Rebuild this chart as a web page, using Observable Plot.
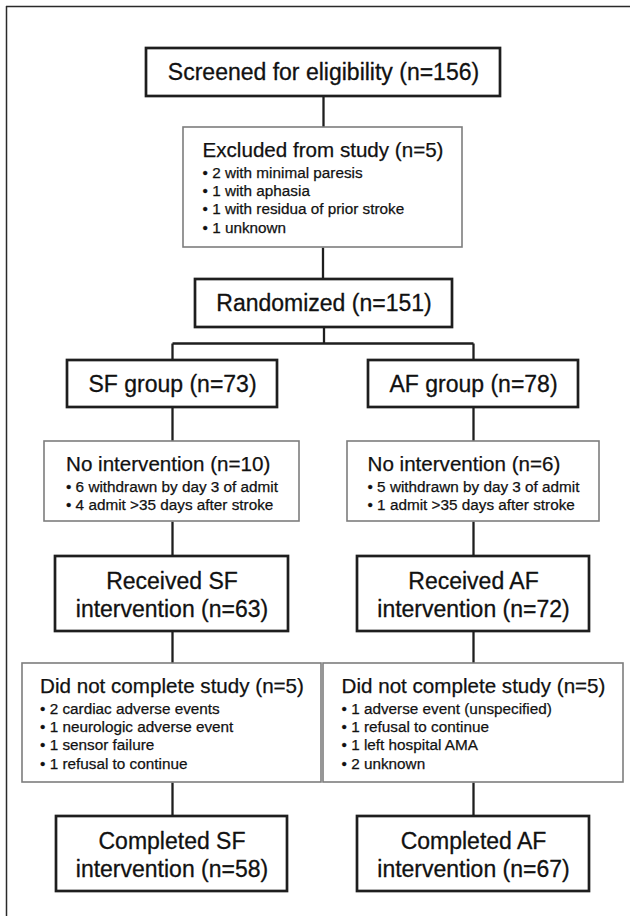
<!DOCTYPE html>
<html><head><meta charset="utf-8">
<script src="https://cdn.jsdelivr.net/npm/d3@7"></script>
<script src="https://cdn.jsdelivr.net/npm/@observablehq/plot@0.6"></script>
<style>body{margin:0;background:#fff}#chart svg{display:block}</style>
</head><body><div id="chart"></div>
<script>
// ---- data ----
const stages = ["Screened for eligibility","Excluded from study","Randomized","SF group","AF group",
  "No intervention","No intervention","Received SF intervention","Received AF intervention",
  "Did not complete study","Did not complete study","Completed SF intervention","Completed AF intervention"];
const counts = [156,5,151,73,78,10,6,63,72,5,5,58,67];
const excludedReasons = ["2 with minimal paresis","1 with aphasia","1 with residua of prior stroke","1 unknown"];
const sfNoIntervention = ["6 withdrawn by day 3 of admit","4 admit >35 days after stroke"];
const afNoIntervention = ["5 withdrawn by day 3 of admit","1 admit >35 days after stroke"];
const sfDropouts = ["2 cardiac adverse events","1 neurologic adverse event","1 sensor failure","1 refusal to continue"];
const afDropouts = ["1 adverse event (unspecified)","1 refusal to continue","1 left hospital AMA","2 unknown"];
const bulletLists = [null, excludedReasons, null, null, null, sfNoIntervention, afNoIntervention, null, null, sfDropouts, afDropouts, null, null];

// ---- layout (flowchart geometry) ----
const layout = [
  {x1:146,x2:500,y1:48,y2:96,kind:"main"},
  {x1:183,x2:462,y1:127,y2:247,kind:"note"},
  {x1:195,x2:452,y1:279,y2:327,kind:"main"},
  {x1:67,x2:277,y1:360,y2:407,kind:"main"},
  {x1:368,x2:578,y1:360,y2:407,kind:"main"},
  {x1:44,x2:299,y1:441,y2:521,kind:"note"},
  {x1:347,x2:599,y1:441,y2:521,kind:"note"},
  {x1:55,x2:288,y1:556,y2:631,kind:"main",split:true},
  {x1:357,x2:589,y1:556,y2:631,kind:"main",split:true},
  {x1:22,x2:321,y1:663,y2:782,kind:"note"},
  {x1:323,x2:623,y1:663,y2:782,kind:"note"},
  {x1:56,x2:287,y1:816,y2:891,kind:"main",split:true},
  {x1:357,x2:589,y1:816,y2:891,kind:"main",split:true}
];
const columnLinks = [[3,5],[4,6],[5,7],[6,8],[7,9],[8,10],[9,11],[10,12]];
const branchY = 343, sfX = 172, afX = 473;

const FONT = "'Liberation Sans', Arial, Helvetica, sans-serif";
const mainSize = 23, titleSize = 20.6, bulletSize = 15.3;
const ctx = document.createElement("canvas").getContext("2d");
function measure(t, s){ ctx.font = `${s}px ${FONT}`; return ctx.measureText(t).width; }

const boxes = layout.map((b,i)=>({...b, i}));
const cx = b => (b.x1+b.x2)/2;

const mainText = [], noteText = [];
boxes.forEach((b,i)=>{
  const label = `${stages[i]} (n=${counts[i]})`;
  if (b.kind === "main") {
    const cy = (b.y1+b.y2)/2;
    if (b.split) {
      const w = stages[i].split(" ");
      const last = w.pop();
      mainText.push({x:cx(b), y:cy+1.5-13.8, text:w.join(" ")});
      mainText.push({x:cx(b), y:cy+1.5+13.8, text:`${last} (n=${counts[i]})`});
    } else {
      mainText.push({x:cx(b), y:cy+0.5, text:label});
    }
  } else {
    const bl = bulletLists[i].map(s => "\u2022 " + s);
    const width = Math.max(measure(label, titleSize), ...bl.map(s=>measure(s, bulletSize)));
    const left = cx(b) - width/2;
    const ty = b.y1 + 23;
    noteText.push({x:left, y:ty, text:label, size:titleSize});
    bl.forEach((s,k)=>noteText.push({x:left, y:ty+22.5+k*18.2, text:s, size:bulletSize}));
  }
});

const r = boxes[2];
const connectors = [
  {x1:cx(boxes[0]),y1:boxes[0].y2,x2:cx(boxes[0]),y2:boxes[1].y1},
  {x1:cx(boxes[1]),y1:boxes[1].y2,x2:cx(boxes[1]),y2:r.y1},
  {x1:cx(r),y1:r.y2,x2:cx(r),y2:branchY},
  {x1:sfX,y1:branchY,x2:afX,y2:branchY},
  {x1:sfX,y1:branchY,x2:sfX,y2:boxes[3].y1},
  {x1:afX,y1:branchY,x2:afX,y2:boxes[4].y1}
];
columnLinks.forEach(([a,b])=>{
  const x = boxes[a].x1 < 320 ? sfX : afX;
  connectors.push({x1:x,y1:boxes[a].y2,x2:x,y2:boxes[b].y1});
});

const plot = Plot.plot({
  width:630, height:916, margin:0,
  x:{domain:[0,630], range:[0,630], axis:null},
  y:{domain:[0,916], range:[0,916], axis:null},
  style:{fontFamily:FONT, background:"#fff"},
  marks:[
    Plot.ruleX([6],{y1:6,y2:916,stroke:"#2a2a2a",strokeWidth:1.5}),
    Plot.ruleY([6],{x1:6,x2:630,stroke:"#2a2a2a",strokeWidth:1.5}),
    Plot.link(connectors,{x1:"x1",y1:"y1",x2:"x2",y2:"y2",stroke:"#1e1e1e",strokeWidth:2.3}),
    Plot.rect(boxes.filter(d=>d.kind==="note"),{x1:"x1",x2:"x2",y1:"y1",y2:"y2",fill:"#fff",stroke:"#7d7d7d",strokeWidth:1.6}),
    Plot.rect(boxes.filter(d=>d.kind==="main"),{x1:"x1",x2:"x2",y1:"y1",y2:"y2",fill:"#fff",stroke:"#1e1e1e",strokeWidth:2.7}),
    Plot.text(mainText,{x:"x",y:"y",text:"text",fontSize:mainSize,fill:"#111",stroke:"#111",strokeWidth:0.3,textAnchor:"middle",fontFamily:FONT}),
    Plot.text(noteText,{x:"x",y:"y",text:"text",fontSize:"size",fill:"#111",stroke:"#111",strokeWidth:0.25,textAnchor:"start",fontFamily:FONT})
  ]
});
document.getElementById("chart").appendChild(plot);
</script>
</body></html>
